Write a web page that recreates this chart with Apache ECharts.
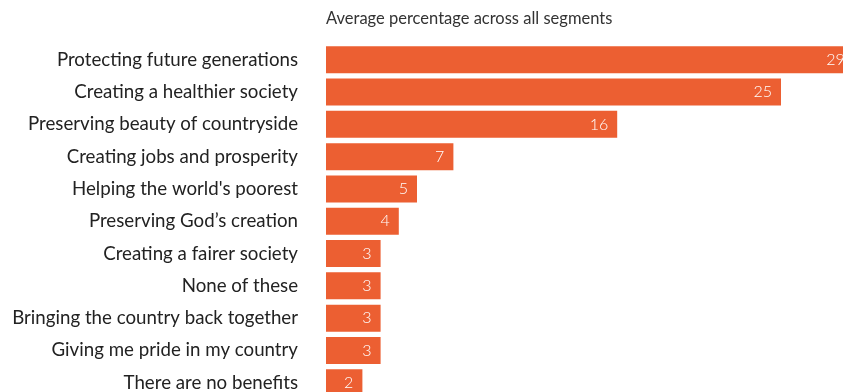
<!DOCTYPE html>
<html>
<head>
<meta charset="utf-8">
<script src="https://cdn.jsdelivr.net/npm/echarts@6/dist/echarts.min.js"></script>
<style>
  html, body { margin: 0; padding: 0; background: #ffffff; }
  #chart { width: 843px; height: 392px; }
</style>
</head>
<body>
<div id="chart"></div>
<script>
// Perceived benefits of climate action, average share across segments
const categories = [
  'Protecting future generations',
  'Creating a healthier society',
  'Preserving beauty of countryside',
  'Creating jobs and prosperity',
  "Helping the world's poorest",
  'Preserving God\u2019s creation',
  'Creating a fairer society',
  'None of these',
  'Bringing the country back together',
  'Giving me pride in my country',
  'There are no benefits'
];
const values = [29, 25, 16, 7, 5, 4, 3, 3, 3, 3, 2];
const axisTitle = 'Average percentage across all segments';

const chart = echarts.init(document.getElementById('chart'), null, { renderer: 'canvas' });
chart.setOption({
  animation: false,
  title: {
    text: axisTitle,
    left: 326,
    top: 10,
    padding: 0,
    textStyle: { fontFamily: 'Lato', fontSize: 16.5, fontWeight: 'normal', color: '#333333' }
  },
  grid: {
    left: 326,
    top: 43.6,
    width: 546,
    height: 355.3,
    containLabel: false,
    outerBoundsMode: 'none'
  },
  xAxis: {
    type: 'value',
    min: 0,
    max: 30,
    show: false
  },
  yAxis: {
    type: 'category',
    data: categories,
    inverse: true,
    axisLine: { show: false },
    axisTick: { show: false },
    splitLine: { show: false },
    axisLabel: {
      margin: 28,
      fontFamily: 'Lato',
      fontSize: 18.7,
      color: '#222222'
    }
  },
  series: [{
    type: 'bar',
    data: values,
    barWidth: 27,
    itemStyle: { color: '#ec5f32' },
    label: {
      show: true,
      position: 'insideRight',
      distance: 9,
      fontFamily: 'Lato',
      fontSize: 16,
      fontWeight: 300,
      color: '#ffffff'
    }
  }]
});
</script>
</body>
</html>
